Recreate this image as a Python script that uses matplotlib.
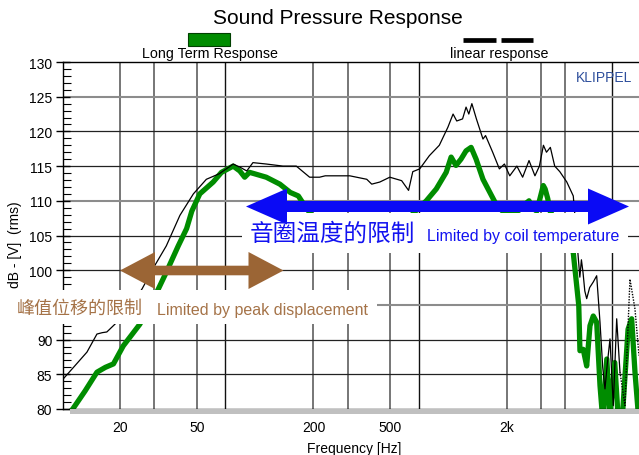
import matplotlib
matplotlib.use("Agg")
import matplotlib.pyplot as plt
from matplotlib.patches import Rectangle, Polygon
from matplotlib.transforms import Affine2D
from matplotlib.ticker import FixedLocator, NullLocator, FixedFormatter

plt.rcParams['font.family'] = ['Liberation Sans', 'Noto Sans CJK SC', 'DejaVu Sans']

# ---------------- data ----------------
linear_freq = [10.15, 11.5, 13.5, 15.2, 16.2, 17.1, 18.8, 21.0, 23.5, 26.0, 30.0, 34.7, 40.8, 47.9,
               55.9, 65.2, 76.9, 84.0, 90.4, 97.3, 114, 139, 163, 191, 215, 230, 308, 377, 400,
               440, 496, 571, 620, 652, 708, 794, 894, 990, 1053, 1100, 1179, 1229, 1270, 1317,
               1390, 1503, 1550, 1687, 1827, 1940, 2067, 2250, 2410, 2600, 2790, 2942, 3086,
               3200, 3351, 3530, 3750, 4077, 4402, 4550, 4650, 4760, 4850, 4942, 5050, 5164,
               5350, 5585, 5816, 6050, 6250, 6420, 6600, 6814, 7086, 7380, 7674]
linear_db = [84.3, 86.0, 88.2, 90.8, 91.0, 91.1, 92.2, 93.6, 95.5, 97.3, 100.5, 103.5, 107.9, 111.0,
             113.1, 113.9, 115.3, 114.8, 114.3, 115.5, 115.3, 115.0, 115.0, 113.4, 113.4, 113.6, 113.6,
             113.1, 112.4, 112.7, 113.4, 112.9, 111.5, 114.2, 114.6, 116.5, 118.0, 120.6, 122.5,
             121.5, 121.8, 123.5, 122.5, 124.0, 121.8, 118.9, 119.4, 117.0, 114.6, 115.3, 113.6,
             115.0, 113.4, 115.8, 113.6, 115.0, 118.0, 117.0, 117.7, 115.0, 114.2, 112.7, 110.7,
             106.0, 102.5, 99.0, 101.5, 99.7, 97.0, 95.9, 97.5, 98.3, 99.2, 92.5, 86.0, 82.9,
             86.5, 90.1, 80.5, 93.0, 85.3]
linear_tail_freq = [7674, 8144, 8450, 8644, 9174, 9624]
linear_tail_db = [85.3, 80.5, 92.0, 98.7, 94.4, 87.7]

long_freq = [10.15, 11.4, 13.2, 15.2, 16.8, 18.5, 20.8, 25.3, 30.0, 34.7, 40.0, 44.2, 47.0, 51.7,
             60.6, 66.9, 76.9, 83.2, 88.2, 93.4, 99.0, 114, 134, 151.8, 167, 180, 191, 210, 250,
             300, 400, 500, 600, 667, 766, 862, 970, 1029, 1090, 1157, 1229, 1305, 1385, 1503,
             1632, 1772, 1900, 2100, 2300, 2500, 2600, 2700, 2850, 3081, 3150, 3250, 3350, 3700,
             4100, 4402, 4700, 4766, 4955, 5164, 5370, 5585, 5816, 6050, 6270, 6560, 6814, 7210,
             7500, 7900, 8450, 8820, 9174, 9624]
long_db = [78.5, 80.0, 82.6, 85.3, 86.0, 86.5, 89.1, 92.2, 96.0, 99.7, 103.5, 106.0, 108.5, 111.0,
           112.7, 114.1, 115.0, 114.3, 113.4, 114.1, 113.9, 113.4, 112.4, 111.2, 110.7, 109.3, 108.3,
           107.0, 106.0, 105.5, 105.0, 105.5, 107.0, 108.4, 110.0, 111.7, 114.1, 116.3, 115.1,
           116.0, 117.2, 117.7, 116.0, 113.1, 111.2, 109.3, 108.5, 108.3, 108.6, 109.6, 110.0,
           109.0, 108.5, 112.2, 111.7, 110.3, 108.4, 106.5, 104.5, 102.5, 94.9, 88.4, 88.6, 86.2,
           92.0, 93.4, 92.5, 83.4, 78.0, 87.2, 79.0, 86.7, 79.0, 79.0, 91.5, 93.0, 85.3, 78.0]

y_major = [80, 85, 90, 95, 100, 105, 110, 115, 120, 125, 130]
y_major_labels = ['80', '85', '90', '', '100', '105', '110', '115', '120', '125', '130']
x_tick_vals = [20, 50, 200, 500, 2000]
x_tick_labels = ['20', '50', '200', '500', '2k']
grid_gray_f = [20, 30, 50, 200, 300, 500, 2000, 3000, 4000]
grid_dark_f = [70, 700, 7000]
grid_gray_db = [95, 110, 125]
grid_dark_db = [85, 90, 100, 105, 115, 120]

# ---------------- figure ----------------
W, H = 639, 456
fig = plt.figure(figsize=(W / 100, H / 100), dpi=100)
pix = Affine2D().scale(1 / W, -1 / H).translate(0, 1) + fig.transFigure

L, R, T, B = 63, 639, 63, 410
ax = fig.add_axes([L / W, 1 - B / H, (R - L) / W, (B - T) / H])
ax.set_xscale('log')
ax.set_xlim(10.15, 9624)
ax.set_ylim(80, 130)

for f in grid_gray_f:
    ax.axvline(f, color='#767676', lw=1.4, zorder=1)
for f in grid_dark_f:
    ax.axvline(f, color='#111111', lw=1.0, zorder=1)
for d in grid_gray_db:
    ax.axhline(d, color='#8c8c8c', lw=1.5, zorder=1)
for d in grid_dark_db:
    ax.axhline(d, color='#222222', lw=0.9, zorder=1)

ax.plot(long_freq, long_db, color='#008c00', lw=3.8, zorder=2, solid_capstyle='butt')
ax.plot(linear_freq, linear_db, color='black', lw=0.9, zorder=3)
ax.plot(linear_tail_freq, linear_tail_db, color='black', lw=1.0, ls=(0, (1, 1)), zorder=3)

ax.spines['right'].set_visible(False)
for s in ['left', 'top', 'bottom']:
    ax.spines[s].set_color('black')
    ax.spines[s].set_linewidth(1.0)

ax.yaxis.set_major_locator(FixedLocator(y_major))
ax.yaxis.set_major_formatter(FixedFormatter(y_major_labels))
ax.yaxis.set_minor_locator(FixedLocator([v for v in range(81, 130) if v % 5]))
ax.tick_params(axis='y', which='major', direction='inout', length=9.4, width=1.0,
               labelsize=10, pad=3.0)
ax.tick_params(axis='y', which='minor', direction='in', length=5.5, width=0.8)
ax.xaxis.set_major_locator(FixedLocator(x_tick_vals))
ax.xaxis.set_major_formatter(FixedFormatter(x_tick_labels))
ax.xaxis.set_minor_locator(NullLocator())
ax.tick_params(axis='x', which='major', length=0, labelsize=10, pad=8)

# gray bar under the axis
bar = Rectangle((70, 410.5), 569, 5, facecolor='#c0c0c0', edgecolor='none',
                transform=pix, clip_on=False, zorder=4)
ax.add_patch(bar)

# white boxes behind annotation texts
for (x0, y0, x1, y1) in [(0, 291, 377, 325), (242, 214, 628, 254)]:
    ax.add_patch(Rectangle((x0, y0), x1 - x0, y1 - y0, facecolor='white', edgecolor='none',
                           transform=pix, clip_on=False, zorder=5))


def double_arrow(x0, x1, yc, h, w, hl, color):
    pts = [(x0, yc), (x0 + hl, yc - w), (x0 + hl, yc - h), (x1 - hl, yc - h), (x1 - hl, yc - w),
           (x1, yc), (x1 - hl, yc + w), (x1 - hl, yc + h), (x0 + hl, yc + h), (x0 + hl, yc + w)]
    ax.add_patch(Polygon(pts, closed=True, facecolor=color, edgecolor='none', transform=pix,
                         clip_on=False, zorder=7))


double_arrow(246, 629, 207.5, 5.5, 18, 41, '#0a0af5')
double_arrow(120, 283.5, 271.5, 4.8, 18.5, 35, '#9b6535')

blue = '#1212f0'
brown = '#a57348'
ax.text(250, 240.5, '音圈温度的限制', transform=pix, fontsize=17, color=blue,
        family=['Noto Sans CJK SC'], ha='left', va='baseline', zorder=8)
ax.text(427, 241.5, 'Limited by coil temperature', transform=pix, fontsize=11.5, color=blue,
        ha='left', va='baseline', zorder=8)
ax.text(17, 314, '峰值位移的限制', transform=pix, fontsize=13, color=brown,
        family=['Noto Sans CJK SC'], ha='left', va='baseline', zorder=8, clip_on=False)
ax.text(157, 315, 'Limited by peak displacement', transform=pix, fontsize=11.5, color=brown,
        ha='left', va='baseline', zorder=8)

# title, legend, labels
fig.text(338, 18, 'Sound Pressure Response', transform=pix, fontsize=15, ha='center', va='center')
fig.patches.append(Rectangle((187.5, 33.5), 42, 13, facecolor='#008c00', edgecolor='#004000',
                             lw=0.8, transform=pix, figure=fig))
fig.text(210, 54, 'Long Term Response', transform=pix, fontsize=10.3, ha='center', va='center')
fig.lines.append(plt.Line2D([463, 496], [40.5, 40.5], color='black', lw=3.4, transform=pix,
                            figure=fig, solid_capstyle='butt'))
fig.lines.append(plt.Line2D([501, 533], [40.5, 40.5], color='black', lw=3.4, transform=pix,
                            figure=fig, solid_capstyle='butt'))
fig.text(499, 54, 'linear response', transform=pix, fontsize=10.3, ha='center', va='center')
fig.text(604, 77.5, 'KLIPPEL', transform=pix, fontsize=10, color='#2e4f9c', ha='center',
         va='center')
fig.text(15, 245, 'dB - [V]  (rms)', transform=pix, fontsize=10, rotation=90, ha='center',
         va='center')
fig.text(354, 449, 'Frequency [Hz]', transform=pix, fontsize=10, ha='center', va='center')

fig.savefig('out.png', dpi=100)
